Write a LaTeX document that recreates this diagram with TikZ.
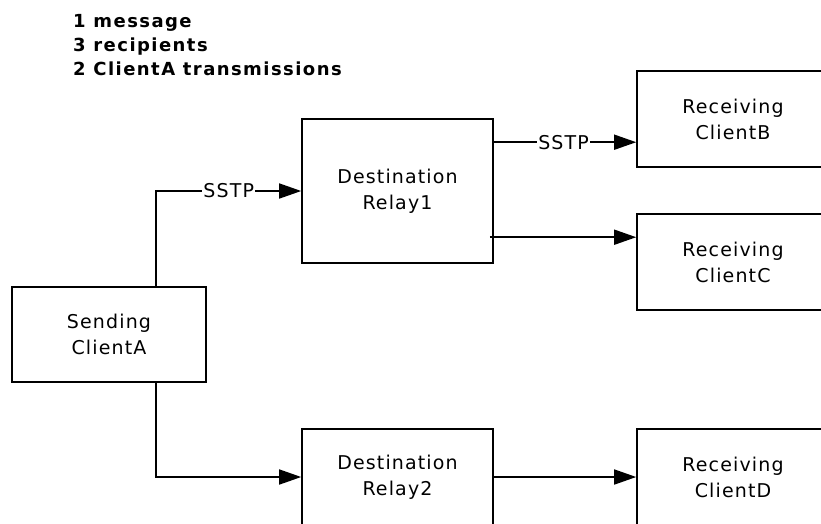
\documentclass[tikz,border=0pt]{standalone}
\usepackage{fontspec}
\setmainfont{DejaVu Sans}[LetterSpace=6]
\newfontfamily\titlefont{DejaVu Sans}[LetterSpace=8]
\usetikzlibrary{arrows.meta,calc}
\begin{document}
\begin{tikzpicture}[x=1pt,y=-1pt,
  box/.style={draw=black,line width=1.6pt,fill=white,inner sep=0pt,
    align=center,font=\fontsize{19}{26}\selectfont},
  relaybox/.style={box,minimum width=191pt,minimum height=144pt},
  clientbox/.style={box,minimum width=192pt,minimum height=96pt},
  sendbox/.style={box,minimum width=194pt,minimum height=95pt},
  conn/.style={line width=1.6pt,-{Triangle[length=22pt,width=15pt]}},
  lab/.style={fill=white,inner sep=1pt,font=\fontsize{19}{22}\selectfont}]
\useasboundingbox (0,0) rectangle (821,523);
\clip (0,0) rectangle (821,523);
\fill[white] (0,0) rectangle (821,523);
\node[anchor=north west,inner sep=0pt,align=left,
  font=\titlefont\fontsize{18}{24}\selectfont\bfseries] (title) at (73,14)
  {1 message\\3 recipients\\2 ClientA transmissions};
\node[sendbox] (A) at (109,334.5) {Sending\\ClientA};
\node[relaybox] (R1) at (397.5,191) {Destination\\Relay1};
\node[relaybox,minimum height=96pt] (R2) at (397.5,477) {Destination\\Relay2};
\node[clientbox] (B) at (733,119) {Receiving\\ClientB};
\node[clientbox] (C) at (733,262) {Receiving\\ClientC};
\node[clientbox] (D) at (733,477) {Receiving\\ClientD};
\coordinate (a1) at ($(A.north west)+(145,0)$);
\coordinate (a2) at ($(A.south west)+(145,0)$);
\coordinate (o1) at ($(R1.north east)+(0,24)$);
\coordinate (o2) at ($(R1.north east)+(-4,119)$);
\draw[conn] (a1) |- node[lab,pos=0.75]{SSTP} (R1.west);
\draw[conn] (o1) -- node[lab,pos=0.49]{SSTP} (o1 -| B.west);
\draw[conn] (o2) -- (o2 -| C.west);
\draw[conn] (a2) |- (R2.west);
\draw[conn] (R2.east) -- (D.west);
\end{tikzpicture}
\end{document}
